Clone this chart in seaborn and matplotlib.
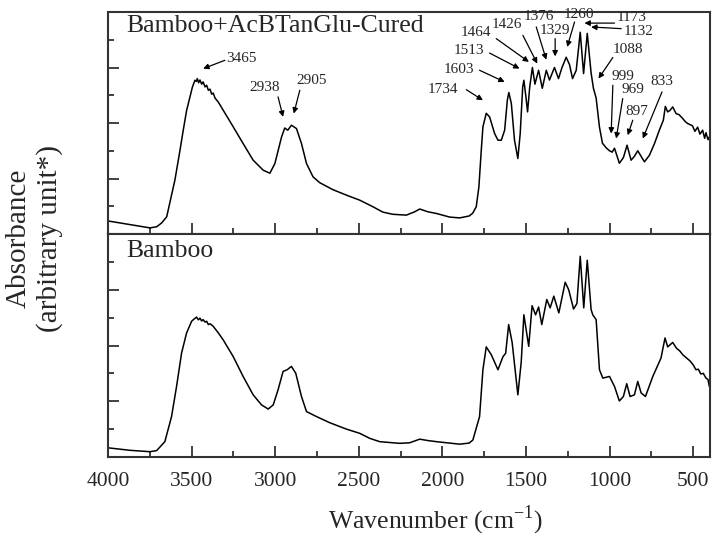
import matplotlib
matplotlib.use("Agg")
import matplotlib.pyplot as plt
from matplotlib.ticker import MultipleLocator
import seaborn as sns
import pandas as pd

# ---------------- data ----------------
cured_wn = [4000, 3851, 3749, 3709, 3679, 3649, 3600, 3570, 3550, 3530, 3510, 3495, 3480, 3472, 3466,
            3458, 3450, 3440, 3431, 3420, 3410, 3400, 3390, 3380, 3371, 3360, 3340, 3311, 3280,
            3251, 3192, 3132, 3072, 3032, 3002, 2962, 2943, 2925, 2903, 2873, 2843, 2813, 2774,
            2734, 2656, 2574, 2495, 2415, 2357, 2297, 2216, 2166, 2136, 2087, 2036, 1957, 1897,
            1840, 1819, 1798, 1782, 1768, 1758, 1738, 1718, 1688, 1668, 1648, 1628, 1612, 1603,
            1588, 1569, 1549, 1535, 1520, 1513, 1500, 1491, 1478, 1462, 1447, 1425, 1403, 1379,
            1360, 1330, 1306, 1285, 1260, 1240, 1222, 1200, 1176, 1156, 1134, 1111, 1097, 1081,
            1061, 1043, 1020, 1001, 985, 971, 942, 918, 896, 872, 852, 832, 812, 792, 762, 732,
            703, 679, 667, 653, 640, 623, 603, 585, 563, 548, 533, 505, 490, 474, 460, 444, 432,
            424, 412, 404]
cured_abs = [0.47, 0.32, 0.22, 0.26, 0.40, 0.62, 1.94, 3.0, 3.74, 4.45, 4.94, 5.3, 5.54, 5.5, 5.6,
             5.45, 5.55, 5.4, 5.48, 5.3, 5.36, 5.18, 5.22, 5.04, 5.08, 4.9, 4.75, 4.46, 4.15,
             3.86, 3.26, 2.66, 2.3, 2.19, 2.54, 3.5, 3.82, 3.74, 3.92, 3.8, 3.26, 2.54, 2.06,
             1.85, 1.6, 1.4, 1.22, 0.98, 0.79, 0.71, 0.68, 0.8, 0.9, 0.8, 0.74, 0.61, 0.58,
             0.65, 0.75, 0.98, 1.7, 3.0, 3.86, 4.35, 4.22, 3.62, 3.38, 3.38, 3.74, 4.82, 5.1,
             4.7, 3.38, 2.72, 3.62, 5.3, 5.54, 4.9, 4.4, 5.3, 6.0, 5.4, 5.9, 5.25, 5.9,
             5.55, 6.0, 5.6, 6.0, 6.37, 6.1, 5.6, 5.9, 7.27, 5.78, 7.23, 5.8, 5.25, 4.9,
             3.85, 3.27, 3.1, 3.0, 2.95, 3.09, 2.55, 2.75, 3.2, 2.66, 2.8, 3.0, 2.8, 2.6, 2.84, 3.26,
             3.74, 4.1, 4.6, 4.4, 4.45, 4.58, 4.34, 4.3, 4.16, 4.05, 3.98, 3.9, 3.7, 3.85, 3.6, 3.74, 3.45,
             3.65, 3.4, 3.5]

bamboo_wn = [4000, 3869, 3749, 3709, 3660, 3620, 3590, 3560, 3530, 3500, 3485, 3470, 3460, 3450,
             3440, 3431, 3420, 3410, 3400, 3390, 3371, 3340, 3311, 3251, 3192, 3132, 3082, 3042,
             3012, 2983, 2953, 2929, 2903, 2877, 2843, 2813, 2753, 2674, 2574, 2495, 2435, 2375,
             2256, 2196, 2136, 2087, 2036, 1897, 1840, 1818, 1778, 1758, 1738, 1708, 1668, 1638,
             1622, 1604, 1583, 1549, 1529, 1513, 1484, 1464, 1443, 1425, 1406, 1376, 1356, 1334,
             1304, 1266, 1245, 1216, 1196, 1176, 1155, 1134, 1111, 1101, 1081, 1061, 1041, 1001,
             971, 942, 918, 898, 878, 852, 832, 812, 786, 742, 693, 669, 653, 623, 600, 580, 563,
             540, 520, 500, 484, 470, 455, 440, 424, 412, 404]
bamboo_abs = [0.33, 0.24, 0.19, 0.23, 0.55, 1.45, 2.53, 3.73, 4.45, 4.87, 4.95, 5.02, 4.92, 4.98,
              4.88, 4.93, 4.84, 4.87, 4.75, 4.78, 4.69, 4.45, 4.2, 3.6, 2.89, 2.23, 1.87, 1.72,
              1.87, 2.41, 3.07, 3.13, 3.25, 3.0, 2.17, 1.63, 1.45, 1.23, 1.0, 0.85, 0.67, 0.55,
              0.49, 0.51, 0.64, 0.59, 0.55, 0.46, 0.5, 0.61, 1.45, 3.13, 3.95, 3.67, 3.13, 3.6,
              3.72, 4.75, 4.1, 2.23, 3.4, 5.1, 3.97, 5.43, 5.1, 5.38, 4.75, 5.65, 5.35, 5.77,
              5.17, 6.27, 6.0, 5.31, 5.5, 7.2, 5.35, 7.06, 5.29, 5.1, 4.93, 3.13, 2.83, 2.89,
              2.53, 2.01, 2.17, 2.63, 2.17, 2.23, 2.71, 2.3, 2.17, 2.89, 3.55, 4.27, 3.95, 4.11, 3.9, 3.8, 3.67,
              3.55, 3.45, 3.3, 3.13, 3.15, 2.98, 3.0, 2.83, 2.78, 2.53]

panel_titles = ["Bamboo+AcBTanGlu-Cured", "Bamboo"]
peak_labels = ["3465", "2938", "2905", "1734", "1603", "1513", "1464", "1426", "1376",
               "1329", "1260", "1173", "1132", "1088", "999", "969", "897", "833"]
x_ticks = [4000, 3500, 3000, 2500, 2000, 1500, 1000, 500]
x_label = "Wavenumber (cm$^{-1}$)"
y_label = "Absorbance\n(arbitrary unit*)"

# annotation layout: (text x, text y, arrow tail x, tail y, arrow head x, head y)
ann_layout = [
    (3201, 6.33, 3301, 6.26, 3431, 5.96),
    (3062, 5.28, 2983, 4.94, 2953, 4.22),
    (2783, 5.54, 2853, 5.18, 2889, 4.34),
    (1999, 5.20, 1857, 5.20, 1758, 4.82),
    (1903, 5.92, 1778, 5.90, 1628, 5.48),
    (1844, 6.62, 1718, 6.52, 1539, 5.96),
    (1798, 7.25, 1678, 7.04, 1483, 6.20),
    (1615, 7.55, 1519, 7.16, 1433, 6.14),
    (1421, 7.82, 1439, 7.46, 1379, 6.28),
    (1330, 7.34, 1326, 7.04, 1326, 6.40),
    (1186, 7.91, 1210, 7.64, 1254, 6.74),
    (868, 7.79, 971, 7.60, 1151, 7.60),
    (828, 7.28, 931, 7.40, 1111, 7.46),
    (888, 6.64, 981, 6.36, 1067, 5.60),
    (922, 5.66, 981, 5.36, 991, 3.62),
    (862, 5.20, 922, 4.88, 961, 3.44),
    (838, 4.40, 862, 4.10, 892, 3.56),
    (689, 5.48, 687, 5.12, 802, 3.44),
]

# ---------------- style ----------------
sns.set_style("ticks")
plt.rcParams["font.family"] = ["Liberation Serif", "DejaVu Serif"]
plt.rcParams["mathtext.fontset"] = "custom"
plt.rcParams["mathtext.rm"] = "Liberation Serif"

fig = plt.figure(figsize=(7.12, 5.4), dpi=100)
ax_top = fig.add_axes([108 / 712, 1 - 234 / 540, (710 - 108) / 712, 222 / 540])
ax_bot = fig.add_axes([108 / 712, 1 - 457 / 540, (710 - 108) / 712, 223 / 540])

df_top = pd.DataFrame({"wn": cured_wn, "abs": cured_abs})
df_bot = pd.DataFrame({"wn": bamboo_wn, "abs": bamboo_abs})
sns.lineplot(data=df_top, x="wn", y="abs", ax=ax_top, color="black", lw=1.1, sort=False)
sns.lineplot(data=df_bot, x="wn", y="abs", ax=ax_bot, color="black", lw=1.1, sort=False)

for ax, title in zip([ax_top, ax_bot], panel_titles):
    ax.set_xlim(4000, 400)
    ax.set_ylim(0, 8)
    ax.set_xlabel("")
    ax.set_ylabel("")
    ax.xaxis.set_major_locator(MultipleLocator(500))
    ax.xaxis.set_minor_locator(MultipleLocator(250))
    ax.yaxis.set_major_locator(MultipleLocator(2))
    ax.yaxis.set_minor_locator(MultipleLocator(1))
    ax.tick_params(axis="both", which="major", direction="in", length=8, width=1.3,
                   color="#333333", top=False, right=False)
    ax.tick_params(axis="both", which="minor", direction="in", length=4.5, width=1.3,
                   color="#333333", top=False, right=False)
    ax.tick_params(axis="y", which="both", labelleft=False)
    for s in ax.spines.values():
        s.set_visible(True)
        s.set_linewidth(1.5)
        s.set_color("#333333")
    ax.text(0.03, 0.985 if ax is ax_top else 0.975, title, transform=ax.transAxes,
            ha="left", va="top", fontsize=18.5)

ax_top.set_yticks([2, 4, 6])
ax_bot.set_yticks([2, 4, 6])
ax_top.tick_params(axis="x", labelbottom=False)
ax_bot.set_xticks(x_ticks)
ax_bot.set_xticklabels([str(t) for t in x_ticks], fontsize=15.5)
ax_bot.tick_params(axis="x", which="major", pad=11)

for lab, (tx, ty, ax0, ay0, hx, hy) in zip(peak_labels, ann_layout):
    ax_top.annotate("", xy=(hx, hy), xytext=(ax0, ay0),
                    arrowprops=dict(arrowstyle="-|>", color="black", lw=0.9,
                                    mutation_scale=8, shrinkA=0, shrinkB=0))
    ax_top.text(tx, ty, lab, ha="center", va="center", fontsize=11)

fig.text(435 / 712, 1 - 520 / 540, x_label, ha="center", va="center", fontsize=18.5)
fig.text(34 / 712, 1 - 238 / 540, y_label, ha="center", va="center", fontsize=21,
         rotation=90, linespacing=1.2)

fig.savefig("out.png", dpi=100)
